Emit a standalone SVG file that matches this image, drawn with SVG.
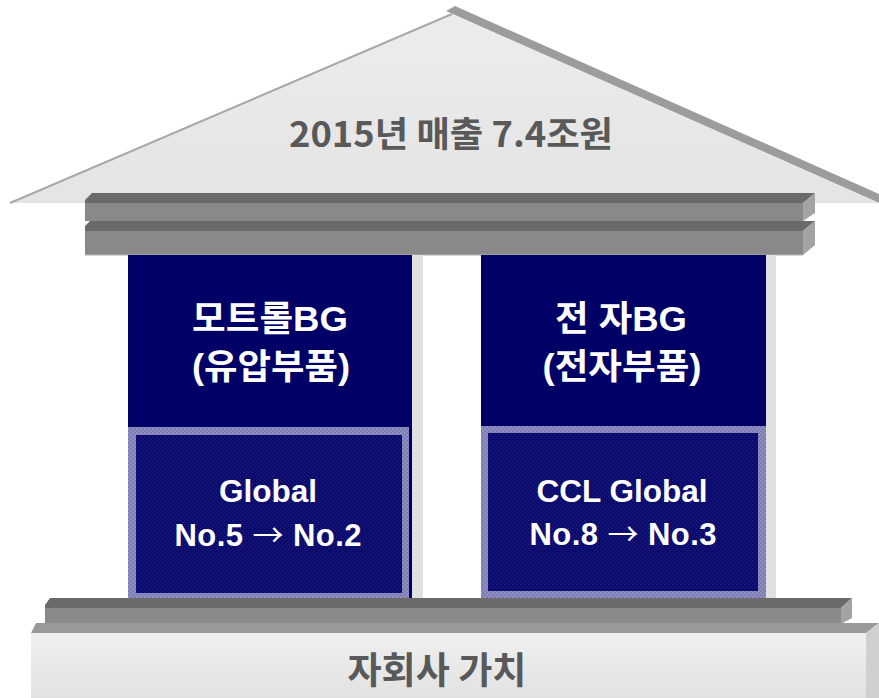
<svg xmlns="http://www.w3.org/2000/svg" width="879" height="698" viewBox="0 0 879 698">
  <defs>
    <pattern id="dots" width="4" height="4" patternUnits="userSpaceOnUse">
      <rect width="4" height="4" fill="#0b0b6c"/>
      <rect x="0" y="0" width="1" height="1" fill="#22228a"/>
      <rect x="2" y="2" width="1" height="1" fill="#22228a"/>
    </pattern>
    <pattern id="frame" width="4" height="4" patternUnits="userSpaceOnUse">
      <rect width="4" height="4" fill="#7c7cb4"/>
      <rect x="0" y="0" width="2" height="2" fill="#8f8fc2"/>
      <rect x="2" y="2" width="2" height="2" fill="#8f8fc2"/>
    </pattern>
    <linearGradient id="roofFill" x1="0" y1="0" x2="0" y2="1">
      <stop offset="0" stop-color="#ececec"/>
      <stop offset="1" stop-color="#e4e4e4"/>
    </linearGradient>
    <linearGradient id="baseFill" x1="0" y1="0" x2="0" y2="1">
      <stop offset="0" stop-color="#f0f0f0"/>
      <stop offset="1" stop-color="#e2e2e2"/>
    </linearGradient>
  </defs>
  <style>
    .dark { fill: #6a6a6a; }
    .body { fill: #898989; }
    .side { fill: #a3a3a3; }
    .navy { fill: #000066; }
    .strip { fill: #e0e0e0; }
    .gray-txt { font-family: "Noto Sans CJK KR", "Liberation Sans", sans-serif; font-weight: 700; fill: #595959; text-anchor: middle; }
    .white-txt { font-family: "Liberation Sans", "Noto Sans CJK KR", sans-serif; font-weight: 700; fill: #ffffff; text-anchor: middle; }
    .arrow { font-family: "Noto Sans CJK KR", sans-serif; font-weight: 400; }
  </style>

  <g id="roof">
    <polygon points="446,11 455,6 879,194 879,203" fill="#9c9c9c"/>
    <polygon points="10,203 452,14 879,203" fill="url(#roofFill)"/>
    <line x1="10" y1="203" x2="452" y2="14" stroke="#a8a8a8" stroke-width="2"/>
    <text class="gray-txt" x="451" y="147" font-size="35" textLength="324" lengthAdjust="spacingAndGlyphs">2015년 매출 7.4조원</text>
  </g>

  <g id="entablature">
    <polygon class="dark" points="92,193 815,193 803,203 85,203 85,200"/>
    <rect class="body" x="85" y="203" width="718" height="18"/>
    <polygon class="side" points="803,203 815,193 815,213 803,221"/>
    <polygon class="dark" points="90,221 815,221 803,231 85,231 85,226"/>
    <rect class="body" x="85" y="231" width="718" height="24"/>
    <polygon class="side" points="803,231 815,221 815,245 803,255"/>
    <line x1="85" y1="255" x2="803" y2="255" stroke="#b0b0b0" stroke-width="1"/>
  </g>

  <g id="column-motorol">
    <rect class="strip" x="412" y="255" width="11" height="343"/>
    <rect class="navy" x="128" y="255" width="284" height="343"/>
    <rect x="128" y="427" width="281" height="172" fill="url(#frame)"/>
    <rect x="136" y="435" width="266" height="158" fill="url(#dots)"/>
    <text class="white-txt" x="270" y="331" font-size="35" textLength="156" lengthAdjust="spacingAndGlyphs">모트롤BG</text>
    <text class="white-txt" x="271" y="379" font-size="35" textLength="158" lengthAdjust="spacingAndGlyphs">(유압부품)</text>
    <text class="white-txt" x="268" y="502" font-size="31" textLength="98" lengthAdjust="spacingAndGlyphs">Global</text>
    <text class="white-txt" x="268" y="546" font-size="31" textLength="187" lengthAdjust="spacing">No.5 <tspan class="arrow">→</tspan> No.2</text>
  </g>

  <g id="column-electronics">
    <rect class="strip" x="765" y="255" width="11" height="343"/>
    <rect class="navy" x="481" y="255" width="285" height="343"/>
    <rect x="481" y="426" width="285" height="172" fill="url(#frame)"/>
    <rect x="488" y="433" width="270" height="158" fill="url(#dots)"/>
    <text class="white-txt" x="621" y="331" font-size="35" textLength="132" lengthAdjust="spacingAndGlyphs">전 자BG</text>
    <text class="white-txt" x="622" y="379" font-size="35" textLength="159" lengthAdjust="spacingAndGlyphs">(전자부품)</text>
    <text class="white-txt" x="622" y="502" font-size="31" textLength="171" lengthAdjust="spacingAndGlyphs">CCL Global</text>
    <text class="white-txt" x="623" y="545" font-size="31" textLength="187" lengthAdjust="spacing">No.8 <tspan class="arrow">→</tspan> No.3</text>
  </g>

  <g id="base">
    <polygon class="dark" points="50,598 852,598 841,608 45,608 45,605"/>
    <rect class="body" x="45" y="608" width="796" height="16"/>
    <polygon class="side" points="841,608 852,598 852,618 841,624"/>
    <polygon points="36,623 879,623 866,633 31,633" fill="#9a9a9a"/>
    <rect x="31" y="633" width="835" height="65" fill="url(#baseFill)"/>
    <polygon points="866,633 879,623 879,698 866,698" fill="#d0d0d0"/>
    <text class="gray-txt" x="437" y="684" font-size="37" textLength="179" lengthAdjust="spacingAndGlyphs">자회사 가치</text>
  </g>
</svg>
